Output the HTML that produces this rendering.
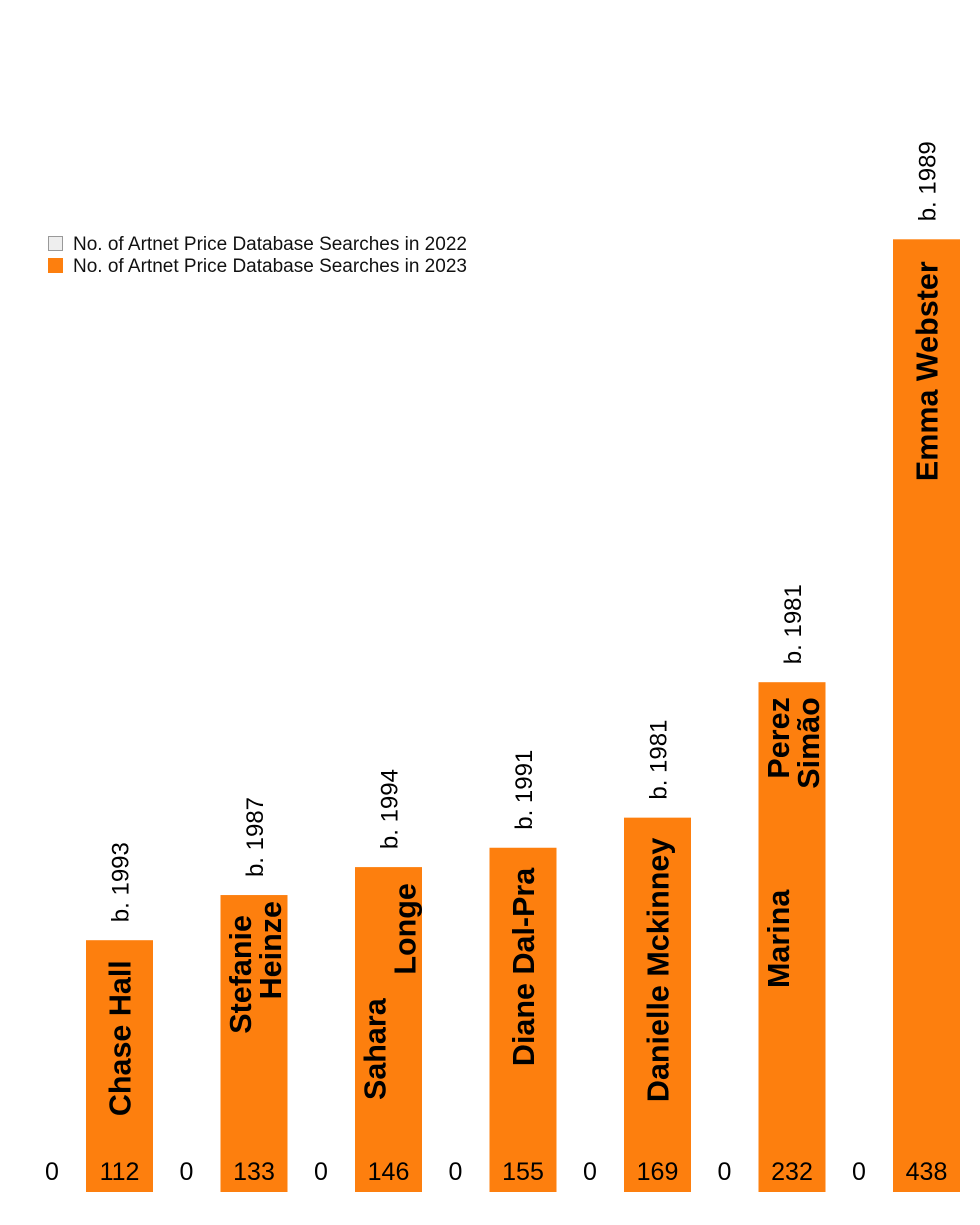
<!DOCTYPE html>
<html><head><meta charset="utf-8"><style>
body{margin:0;background:#fff}
svg{display:block;font-family:"Liberation Sans",sans-serif}
</style></head><body>
<svg id="chart" width="980" height="1225" viewBox="0 0 980 1225">
<g>
<rect x="48.5" y="236.5" width="14" height="14" fill="#eeeeee" stroke="#999" stroke-width="1"/>
<text x="73" y="250" font-size="19" fill="#111">No. of Artnet Price Database Searches in 2022</text>
<rect x="48" y="258" width="15" height="15" fill="#fd7f0e"/>
<text x="73" y="272" font-size="19" fill="#111">No. of Artnet Price Database Searches in 2023</text>
</g>
<g id="bars"></g>
</svg>
<script>
const artists = ["Chase Hall","Stefanie Heinze","Sahara Longe","Diane Dal-Pra","Danielle Mckinney","Marina Perez Simão","Emma Webster"];
const births = ["b. 1993","b. 1987","b. 1994","b. 1991","b. 1981","b. 1981","b. 1989"];
const values2022 = [0,0,0,0,0,0,0];
const values2023 = [112,133,146,155,169,232,438];
// name label lines: [text, column offset, anchor mode, y]
const nameLines = [
 [["Chase Hall",0,"top",20]],
 [["Stefanie",-14,"top",20],["Heinze",16,"top",6]],
 [["Sahara",-14,"start",1100],["Longe",16,"top",16]],
 [["Diane Dal-Pra",0,"top",20]],
 [["Danielle Mckinney",0,"top",20]],
 [["Marina",-14,"start",988],["Perez",-14,"top",15],["Simão",16,"top",15]],
 [["Emma Webster",0,"top",22]]
];
const NS="http://www.w3.org/2000/svg";
const g=document.getElementById('bars');
const baseY=1192, barW=67, step=134.5, x0=86;
function yScale(v){return baseY-(11+2.15*v);}
function xBar(i){return x0+step*i;}
function mk(tag,attrs,txt){const e=document.createElementNS(NS,tag);for(const k in attrs)e.setAttribute(k,attrs[k]);if(txt!=null)e.textContent=txt;g.appendChild(e);return e;}
values2023.forEach((v,i)=>{
  const x=xBar(i), top=yScale(v), cx=x+barW/2;
  const z=mk('text',{x:xBar(i)-34,y:1180,'font-size':25,'text-anchor':'middle',fill:'#000'},values2022[i]);
  
  
  const r=mk('rect',{x:x,y:top,width:barW,height:baseY-top,fill:'#fd7f0e'});
  
  
  const t=mk('text',{x:cx,y:1180,'font-size':25,'text-anchor':'middle',fill:'#000'},v);
  
  
  const b=mk('text',{transform:`translate(${cx+9},${top-18}) rotate(-90)`,'font-size':24,'text-anchor':'start',fill:'#000'},births[i]);
  
  
  nameLines[i].forEach(l=>{
    let y, anchor;
    if(l[2]==="top"){y=top+l[3];anchor='end';}else{y=l[3];anchor=l[2];}
    const n=mk('text',{transform:`translate(${cx+l[1]+11},${y}) rotate(-90)`,'font-size':30.5,'font-weight':'bold','text-anchor':anchor,fill:'#000'},l[0]);
    
    
  });
});
</script>
</body></html>
